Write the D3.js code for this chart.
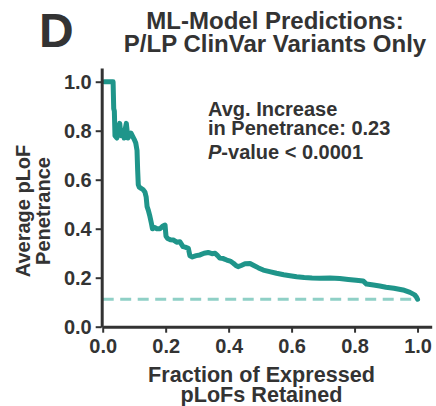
<!DOCTYPE html>
<html>
<head>
<meta charset="utf-8">
<script src="https://cdn.jsdelivr.net/npm/d3@7"></script>
<style>
  body { margin: 0; background: #fff; }
  text { font-family: "Liberation Sans", Arial, sans-serif; font-weight: bold; fill: #333; }
</style>
</head>
<body>
<div id="chart"></div>
<script>
// fraction of expressed pLoFs retained
const fracRetained = [0.005, 0.033, 0.035, 0.037, 0.039, 0.045, 0.050, 0.054, 0.058, 0.062, 0.064, 0.068,
  0.072, 0.075, 0.080, 0.085, 0.090, 0.096, 0.100, 0.105, 0.109, 0.111, 0.113, 0.116, 0.122, 0.128,
  0.134, 0.138, 0.141, 0.145, 0.150, 0.155, 0.158, 0.165, 0.172, 0.182, 0.190, 0.198, 0.201, 0.206,
  0.215, 0.224, 0.235, 0.245, 0.255, 0.262, 0.272, 0.277, 0.285, 0.297, 0.309, 0.322, 0.335, 0.347,
  0.357, 0.365, 0.372, 0.383, 0.394, 0.405, 0.415, 0.423, 0.430, 0.440, 0.452, 0.468, 0.480, 0.495,
  0.510, 0.530, 0.552, 0.575, 0.595, 0.616, 0.640, 0.665, 0.690, 0.722, 0.753, 0.780, 0.805, 0.827,
  0.838, 0.860, 0.880, 0.900, 0.925, 0.954, 0.976, 0.991, 0.997, 1.0];
// average pLoF penetrance
const avgPenetrance = [1.0, 1.0, 0.89, 0.88, 0.78, 0.77, 0.80, 0.83, 0.78, 0.80, 0.79, 0.77,
  0.81, 0.83, 0.77, 0.78, 0.79, 0.775, 0.765, 0.75, 0.72, 0.64, 0.58, 0.57, 0.565, 0.56,
  0.55, 0.53, 0.49, 0.475, 0.45, 0.42, 0.40, 0.405, 0.40, 0.40, 0.41, 0.415, 0.37, 0.36,
  0.355, 0.354, 0.345, 0.347, 0.327, 0.325, 0.32, 0.29, 0.285, 0.29, 0.293, 0.30, 0.303, 0.298,
  0.30, 0.29, 0.28, 0.278, 0.272, 0.268, 0.259, 0.25, 0.245, 0.25, 0.257, 0.258, 0.25, 0.24,
  0.231, 0.225, 0.218, 0.212, 0.208, 0.204, 0.201, 0.199, 0.198, 0.199, 0.197, 0.193, 0.19, 0.187,
  0.174, 0.17, 0.166, 0.161, 0.157, 0.15, 0.14, 0.13, 0.12, 0.112];
const baseline = 0.112;
const xTicks = [0, 0.2, 0.4, 0.6, 0.8, 1.0];
const yTicks = [0, 0.2, 0.4, 0.6, 0.8, 1.0];

const width = 436, height = 406;
const svg = d3.select("#chart").append("svg")
  .attr("width", width).attr("height", height);

const x = d3.scaleLinear().domain([0, 1.045]).range([102.7, 431.7]);
const y = d3.scaleLinear().domain([0, 1.056]).range([326.7, 68]);

// panel letter + title
svg.append("text").attr("x", 39).attr("y", 47).style("font-size", "48px").text("D");
const title = svg.append("text").attr("text-anchor", "middle").style("font-size", "24px");
title.append("tspan").attr("x", 275).attr("y", 28.5).text("ML-Model Predictions:");
title.append("tspan").attr("x", 275).attr("y", 51.5).text("P/LP ClinVar Variants Only");

// baseline dashed
svg.append("line")
  .attr("x1", x(0)).attr("x2", x(1))
  .attr("y1", y(baseline)).attr("y2", y(baseline))
  .attr("stroke", "#8fd0c6").attr("stroke-width", 3)
  .attr("stroke-dasharray", "11,6.5");

// penetrance curve
const pts = fracRetained.map((f, i) => [f, avgPenetrance[i]]);
svg.append("path")
  .attr("d", d3.line().x(d => x(d[0])).y(d => y(d[1]))(pts))
  .attr("fill", "none").attr("stroke", "#1f958a")
  .attr("stroke-width", 5).attr("stroke-linejoin", "round").attr("stroke-linecap", "round");

// axes
const xAxis = svg.append("g").attr("transform", `translate(0,${y(0)})`)
  .call(d3.axisBottom(x).tickValues(xTicks).tickFormat(d3.format(".1f")).tickSize(6).tickSizeOuter(0));
const yAxis = svg.append("g").attr("transform", `translate(${x(0) - 1},0)`)
  .call(d3.axisLeft(y).tickValues(yTicks).tickFormat(d3.format(".1f")).tickSize(6).tickSizeOuter(0));
[xAxis, yAxis].forEach(a => {
  a.select(".domain").attr("stroke", "#333").attr("stroke-width", 3);
  a.selectAll(".tick line").attr("stroke", "#333").attr("stroke-width", 2);
  a.selectAll(".tick text").style("font-size", "20px").attr("fill", "#333")
    .style("font-family", "'Liberation Sans', Arial, sans-serif").style("font-weight", "bold");
});
xAxis.selectAll(".tick text").attr("y", 26.5).attr("dy", 0);
yAxis.selectAll(".tick text").attr("x", -10).attr("dy", "0.36em");

// annotation
const ann = svg.append("text").style("font-size", "20px");
ann.append("tspan").attr("x", 208).attr("y", 116).text("Avg. Increase");
ann.append("tspan").attr("x", 208).attr("y", 134.5).text("in Penetrance: 0.23");
const pv = svg.append("text").attr("x", 208).attr("y", 158.5).style("font-size", "20px");
pv.append("tspan").style("font-style", "italic").text("P");
pv.append("tspan").text("-value < 0.0001");

// axis titles
const xt = svg.append("text").attr("text-anchor", "middle").style("font-size", "21.6px");
xt.append("tspan").attr("x", 261.5).attr("y", 381.5).text("Fraction of Expressed");
xt.append("tspan").attr("x", 261.5).attr("y", 402).text("pLoFs Retained");
const yt = svg.append("text").attr("text-anchor", "middle").style("font-size", "20px")
  .attr("transform", "translate(0,211) rotate(-90)");
yt.append("tspan").attr("x", 0).attr("y", 30).text("Average pLoF");
yt.append("tspan").attr("x", 0).attr("y", 49.5).text("Penetrance");
</script>
</body>
</html>
